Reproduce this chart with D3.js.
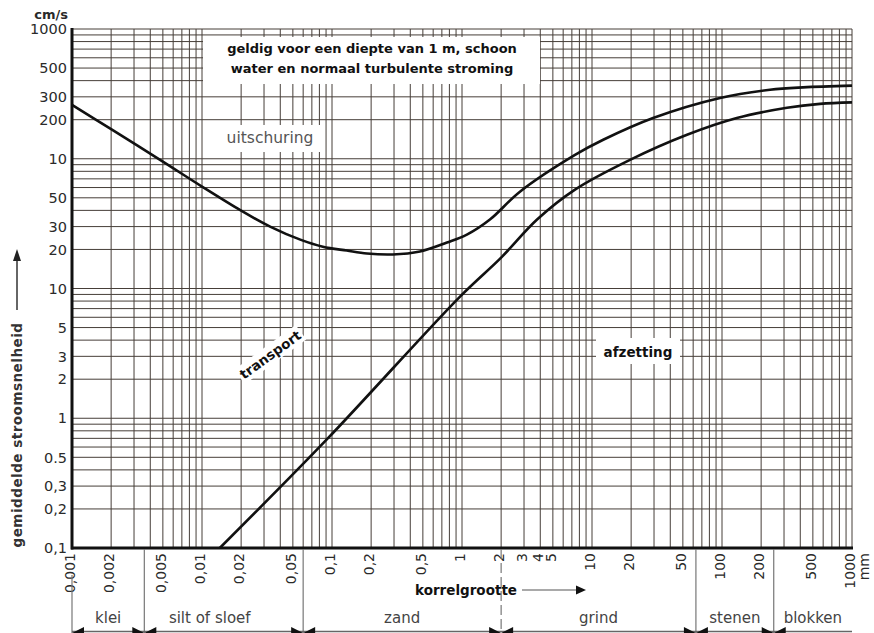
<!DOCTYPE html>
<html><head><meta charset="utf-8">
<script src="https://cdn.jsdelivr.net/npm/d3@7"></script>
<style>
html,body{margin:0;padding:0;background:#fff;}
svg{display:block;font-family:"DejaVu Sans",sans-serif;}
</style></head>
<body>
<svg id="c" width="874" height="633"></svg>
<script>
// ---- data ----
const xTickValues = [0.001,0.002,0.005,0.01,0.02,0.05,0.1,0.2,0.5,1,2,3,4,5,10,20,50,100,200,500,1000];
const xTickLabels = ["0,001","0,002","0,005","0,01","0,02","0,05","0,1","0,2","0,5","1","2","3","4","5","10","20","50","100","200","500","1000"];
const yTickValues = [0.1,0.2,0.3,0.5,1,2,3,5,10,20,30,50,100,200,300,500,1000];
const yTickLabels = ["0,1","0,2","0,3","0.5","1","2","3","5","10","20","30","50","10","200","300","500","1000"];

// erosion (uitschuring) curve
const erosionD = [0.001,0.002,0.005,0.01,0.02,0.0334,0.057,0.085,0.13,0.186,0.294,0.475,0.767,1.09,1.64,2.79,7.4,12.2,29.5,96.6,234,420,1000];
const erosionV = [260,169,95,61,39.8,30.0,23.8,21.0,19.6,18.6,18.3,19.3,22.6,26,34,55.7,107,140,206,294,340,355,366];
// deposition (afzetting) curve
const depositD = [0.0137,0.0916,0.966,2,3.78,7.4,19.6,53.8,130,316,567,1000];
const depositV = [0.1,0.69,8.67,17.3,34,57.8,98,153,206,247,265,272];

// grain size classes
const classNames = ["klei","silt of sloef","zand","grind","stenen","blokken"];
const classBounds = [0.001,0.0036,0.06,2,63,250,1000];

// ---- drawing ----
const svg = d3.select("#c");
const x = d3.scaleLog().domain([0.001,1000]).range([72,852]);
const y = d3.scaleLog().domain([0.1,1000]).range([548,29]);
const gridCol = "#463e38";

// grid
const g = svg.append("g");
g.selectAll("line.v").data(x.ticks()).enter().append("line")
  .attr("x1",d=>x(d)).attr("x2",d=>x(d)).attr("y1",y(1000)).attr("y2",y(0.1))
  .attr("stroke",gridCol).attr("stroke-width",1);
g.selectAll("line.h").data(y.ticks()).enter().append("line")
  .attr("x1",x(0.001)).attr("x2",x(1000)).attr("y1",d=>y(d)).attr("y2",d=>y(d))
  .attr("stroke",gridCol).attr("stroke-width",1);

// white label boxes over the grid
svg.append("rect").attr("x",203).attr("y",37).attr("width",337).attr("height",47).attr("fill","#fff");
svg.append("rect").attr("x",218).attr("y",125).attr("width",106).attr("height",27).attr("fill","#fff");
svg.append("rect").attr("x",596).attr("y",338).attr("width",84).attr("height",26).attr("fill","#fff");

// axes lines (thick left & bottom)
svg.append("line").attr("x1",x(0.001)).attr("x2",x(0.001)).attr("y1",y(1000)-1).attr("y2",y(0.1)+1.5)
  .attr("stroke","#111").attr("stroke-width",3);
svg.append("line").attr("x1",x(0.001)-1).attr("x2",x(1000)+1).attr("y1",y(0.1)).attr("y2",y(0.1))
  .attr("stroke","#111").attr("stroke-width",3);

// curves
const line = d3.line().x(d=>x(d[0])).y(d=>y(d[1])).curve(d3.curveCatmullRom.alpha(0.5));
svg.append("path").attr("d",line(erosionD.map((d,i)=>[d,erosionV[i]])))
  .attr("fill","none").attr("stroke","#111").attr("stroke-width",2.6);
svg.append("path").attr("d",line(depositD.map((d,i)=>[d,depositV[i]])))
  .attr("fill","none").attr("stroke","#111").attr("stroke-width",2.6);

// y tick labels
svg.append("g").selectAll("text").data(yTickValues).enter().append("text")
  .attr("x",67).attr("y",d=>y(d)).attr("dy","0.36em").attr("text-anchor","end")
  .attr("font-size",14.5).attr("fill","#2a2a2a").text((d,i)=>yTickLabels[i]);
svg.append("text").attr("x",68).attr("y",19).attr("text-anchor","end")
  .attr("font-size",13).attr("font-weight","bold").attr("fill","#2a2a2a").text("cm/s");

// x tick labels (rotated)
svg.append("g").selectAll("text").data(xTickValues).enter().append("text")
  .attr("transform",d=>`translate(${x(d)+3},553) rotate(-90)`)
  .attr("text-anchor","end").attr("font-size",14).attr("fill","#2a2a2a")
  .text((d,i)=>xTickLabels[i]);
svg.append("text").attr("transform",`translate(${x(1000)+17},553) rotate(-90)`)
  .attr("text-anchor","end").attr("font-size",14).attr("fill","#2a2a2a").text("mm");

// titles inside plot
svg.append("text").attr("x",372).attr("y",53).attr("text-anchor","middle")
  .attr("font-size",13).attr("font-weight","bold").attr("fill","#111").text("geldig voor een diepte van 1 m, schoon");
svg.append("text").attr("x",372).attr("y",73).attr("text-anchor","middle")
  .attr("font-size",13).attr("font-weight","bold").attr("fill","#111").text("water en normaal turbulente stroming");
svg.append("text").attr("x",270).attr("y",143).attr("text-anchor","middle")
  .attr("font-size",15.5).attr("fill","#555").text("uitschuring");
svg.append("text").attr("x",638).attr("y",357).attr("text-anchor","middle")
  .attr("font-size",13.5).attr("font-weight","bold").attr("fill","#111").text("afzetting");
const tp = svg.append("g").attr("transform","translate(272,357) rotate(-36)");
tp.append("rect").attr("x",-38).attr("y",-12).attr("width",76).attr("height",18).attr("fill","#fff");
tp.append("text").attr("text-anchor","middle").attr("y",2)
  .attr("font-size",13.5).attr("font-weight","bold").attr("fill","#111").text("transport");

// y axis title with arrow
svg.append("text").attr("transform","translate(22,435) rotate(-90)").attr("text-anchor","middle")
  .attr("font-size",13.5).attr("font-weight","bold").attr("letter-spacing",0.5).attr("fill","#333")
  .text("gemiddelde stroomsnelheid");
svg.append("line").attr("x1",17).attr("x2",17).attr("y1",310).attr("y2",258).attr("stroke","#333").attr("stroke-width",1.5);
svg.append("path").attr("d","M17,249 L13,261 L21,261 Z").attr("fill","#222");

// korrelgrootte label with arrow
svg.append("text").attr("x",517).attr("y",595).attr("text-anchor","end")
  .attr("font-size",13.5).attr("font-weight","bold").attr("fill","#111").text("korrelgrootte");
svg.append("line").attr("x1",522).attr("x2",578).attr("y1",590).attr("y2",590).attr("stroke","#555").attr("stroke-width",1.2);
svg.append("path").attr("d","M586,590 L576,585.5 L576,594.5 Z").attr("fill","#111");

// grain-size class band
const band = svg.append("g");
band.selectAll("line.b").data(classBounds.slice(0,-1)).enter().append("line")
  .attr("x1",d=>x(d)).attr("x2",d=>x(d)).attr("y1",d=>d===0.001?575:549).attr("y2",633)
  .attr("stroke","#777").attr("stroke-width",1.2)
  .attr("stroke-dasharray",d=>d===2?"10,4":null);
band.selectAll("text").data(classNames).enter().append("text")
  .attr("x",(d,i)=>(x(classBounds[i])+x(classBounds[i+1]))/2 - (i===1?14:0))
  .attr("y",623).attr("text-anchor","middle").attr("font-size",15).attr("fill","#444").text(d=>d);
band.append("line").attr("x1",x(0.001)).attr("x2",x(1000)).attr("y1",631.5).attr("y2",631.5)
  .attr("stroke","#666").attr("stroke-width",1.5);
classBounds.slice(1,-1).forEach(b=>{
  const bx = x(b);
  band.append("path").attr("d",`M${bx},633 L${bx-12},627 L${bx-12},639 Z M${bx},633 L${bx+12},627 L${bx+12},639 Z`).attr("fill","#111");
});
band.append("path").attr("d",`M${x(0.001)},633 L${x(0.001)+12},627 L${x(0.001)+12},639 Z`).attr("fill","#111");
</script>
</body></html>
